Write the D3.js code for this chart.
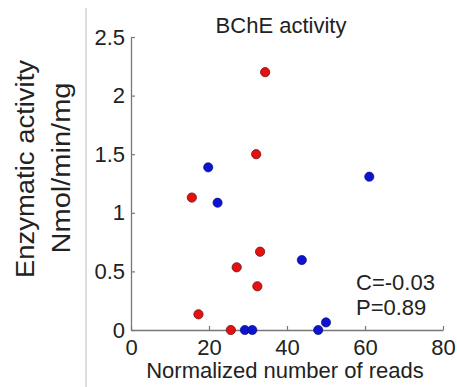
<!DOCTYPE html>
<html><head><meta charset="utf-8">
<script src="https://cdn.jsdelivr.net/npm/d3@7"></script>
<style>body{margin:0;background:#fff}svg{display:block}text{font-family:"Liberation Sans",Arial,sans-serif}</style>
</head><body>
<script>
const title = "BChE activity";
const xLabel = "Normalized number of reads";
const yLabel1 = "Enzymatic activity";
const yLabel2 = "Nmol/min/mg";
const xTicks = [0, 20, 40, 60, 80];
const yTicks = [0, 0.5, 1, 1.5, 2, 2.5];
const yTickLabels = ["0", "0.5", "1", "1.5", "2", "2.5"];
const redX = [15.6, 34.4, 32.1, 27.1, 33.1, 32.4, 17.3, 25.6];
const redY = [1.13, 2.20, 1.50, 0.535, 0.668, 0.373, 0.134, 0];
const blueX = [19.8, 22.2, 61.1, 43.8, 29.2, 31.1, 48.0, 50.0];
const blueY = [1.388, 1.086, 1.308, 0.597, 0, 0, 0, 0.065];
const stats = ["C=-0.03", "P=0.89"];

const W = 457, H = 387;
const svg = d3.select("body").append("svg").attr("width", W).attr("height", H);
const x = d3.scaleLinear().domain([0, 80]).range([131, 443]);
const y = d3.scaleLinear().domain([0, 2.5]).range([330, 37]);
const axisColor = "#777", textColor = "#222";

// left separator line
svg.append("line").attr("x1", 86).attr("x2", 86).attr("y1", 8).attr("y2", H)
  .attr("stroke", "#bbb").attr("stroke-width", 1);

// x axis
const gx = svg.append("g").attr("transform", `translate(0,${y(0)})`)
  .call(d3.axisBottom(x).tickValues(xTicks).tickSizeInner(-4).tickSizeOuter(0).tickPadding(9));
// y axis
const gy = svg.append("g").attr("transform", `translate(${x(0)},0)`)
  .call(d3.axisLeft(y).tickValues(yTicks).tickFormat((d, i) => yTickLabels[i]).tickSizeInner(-4).tickSizeOuter(0).tickPadding(6));
[gx, gy].forEach(g => {
  g.select(".domain").attr("stroke", axisColor).attr("stroke-width", 1.3);
  g.selectAll(".tick line").attr("stroke", axisColor).attr("stroke-width", 1.2);
  g.selectAll(".tick text").attr("fill", textColor).style("font-size", "22px");
});
gx.selectAll(".tick text").attr("dy", "0.71em");

// points
const red = redX.map((v, i) => [v, redY[i]]);
const blue = blueX.map((v, i) => [v, blueY[i]]);
svg.append("g").selectAll("circle").data(red).join("circle")
  .attr("cx", d => x(d[0])).attr("cy", d => y(d[1])).attr("r", 4.6)
  .attr("fill", "#e61010").attr("stroke", "#7a1a1a").attr("stroke-width", 0.9);
svg.append("g").selectAll("circle").data(blue).join("circle")
  .attr("cx", d => x(d[0])).attr("cy", d => y(d[1])).attr("r", 4.6)
  .attr("fill", "#0a14d2").attr("stroke", "#10106a").attr("stroke-width", 0.7);

// title
svg.append("text").attr("x", 281).attr("y", 33).attr("text-anchor", "middle")
  .attr("fill", textColor).style("font-size", "22px").text(title);
// x label
svg.append("text").attr("x", 285).attr("y", 378).attr("text-anchor", "middle")
  .attr("fill", textColor).style("font-size", "22px").text(xLabel);
// y labels
svg.append("text").attr("transform", "translate(34,169) rotate(-90)").attr("text-anchor", "middle")
  .attr("fill", textColor).style("font-size", "26px")
  .attr("textLength", 218).attr("lengthAdjust", "spacingAndGlyphs").text(yLabel1);
svg.append("text").attr("transform", "translate(70,168) rotate(-90)").attr("text-anchor", "middle")
  .attr("fill", textColor).style("font-size", "26px")
  .attr("textLength", 171).attr("lengthAdjust", "spacingAndGlyphs").text(yLabel2);
// stats
stats.forEach((s, i) => {
  svg.append("text").attr("x", 356).attr("y", 290 + i * 25)
    .attr("fill", textColor).style("font-size", "22px").text(s);
});
</script>
</body></html>
